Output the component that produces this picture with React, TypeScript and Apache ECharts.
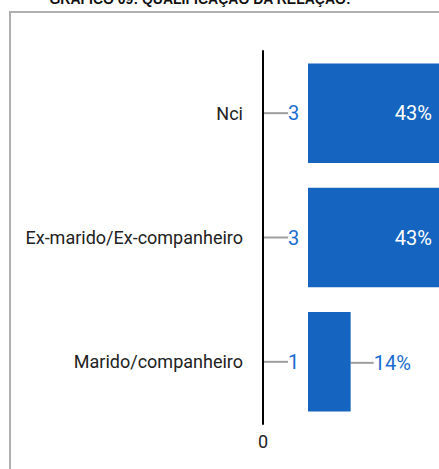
import React, { useEffect, useRef } from "react";
import * as echarts from "echarts";

const titleText = "GRÁFICO 09: QUALIFICAÇÃO DA RELAÇÃO:";
const categories = ["Nci", "Ex-marido/Ex-companheiro", "Marido/companheiro"];
const counts = [3, 3, 1];
const percents = [43, 43, 14];
const axisTicks = [0];

const BAR = "#1565C0";
const LABEL_BLUE = "#1a6dd0";
const LEADER = "#9e9e9e";
const FONT = "Roboto";

export default function App() {
  const ref = useRef<HTMLDivElement>(null);
  useEffect(() => {
    const chart = echarts.init(ref.current!, null, { renderer: "svg" });
    const option: any = {
      animation: false,
      backgroundColor: "#fff",
      graphic: [
        {
          type: "rect",
          z: 0,
          shape: { x: 10, y: 12, width: 600, height: 600 },
          style: { fill: "none", stroke: "#b0b0b0", lineWidth: 2 },
        },
        {
          type: "text",
          x: 200,
          y: 6,
          style: {
            text: titleText,
            fill: "#111",
            font: "bold 14px 'Liberation Sans', Arial, sans-serif",
            align: "center",
            verticalAlign: "bottom",
          },
        },
      ],
      grid: [
        { left: 263, right: 0, top: 51, height: 373 },
        { left: 308, right: 0, top: 51, height: 373 },
      ],
      xAxis: [
        {
          gridIndex: 0,
          type: "value",
          min: 0,
          max: 10,
          interval: 10,
          axisLine: { show: false },
          axisTick: { show: false },
          splitLine: { show: false },
          axisLabel: {
            margin: 8,
            fontSize: 18,
            fontFamily: FONT,
            color: "#222",
            formatter: (v: number) => (axisTicks.includes(v) ? String(v) : ""),
          },
        },
        {
          gridIndex: 1,
          type: "value",
          min: 0,
          max: 43,
          show: false,
        },
      ],
      yAxis: [
        {
          gridIndex: 0,
          type: "category",
          inverse: true,
          data: categories,
          axisLine: { show: true, lineStyle: { color: "#000", width: 2 } },
          axisTick: { show: false },
          axisLabel: { margin: 20, fontSize: 18, fontFamily: FONT, color: "#222" },
        },
        {
          gridIndex: 1,
          type: "category",
          inverse: true,
          data: categories,
          show: false,
        },
      ],
      series: [
        {
          type: "custom",
          xAxisIndex: 0,
          yAxisIndex: 0,
          data: counts.map((c, i) => [0, i, c]),
          encode: { x: 0, y: 1 },
          renderItem: (params: any, api: any) => {
            const p = api.coord([api.value(0), api.value(1)]);
            return {
              type: "group",
              children: [
                {
                  type: "line",
                  shape: { x1: p[0] + 1, y1: p[1], x2: p[0] + 25, y2: p[1] },
                  style: { stroke: LEADER, lineWidth: 2 },
                },
                {
                  type: "text",
                  x: p[0] + 25,
                  y: p[1],
                  style: {
                    text: String(api.value(2)),
                    fill: LABEL_BLUE,
                    fontSize: 20,
                    fontFamily: FONT,
                    align: "left",
                    verticalAlign: "middle",
                  },
                },
              ],
            };
          },
        },
        {
          type: "bar",
          xAxisIndex: 1,
          yAxisIndex: 1,
          barCategoryGap: "20%",
          itemStyle: { color: BAR },
          data: percents.map((p) =>
            p >= 20
              ? {
                  value: p,
                  label: {
                    show: true,
                    position: "insideRight",
                    distance: 7,
                    color: "#fff",
                    fontSize: 20,
                    fontFamily: FONT,
                    formatter: "{c}%",
                  },
                }
              : { value: p, label: { show: false } }
          ),
        },
        {
          type: "custom",
          xAxisIndex: 1,
          yAxisIndex: 1,
          data: percents.map((p, i) => [p, i]).filter((d) => d[0] < 20),
          encode: { x: 0, y: 1 },
          renderItem: (params: any, api: any) => {
            const p = api.coord([api.value(0), api.value(1)]);
            return {
              type: "group",
              children: [
                {
                  type: "line",
                  shape: { x1: p[0], y1: p[1] + 1, x2: p[0] + 23, y2: p[1] + 1 },
                  style: { stroke: LEADER, lineWidth: 2 },
                },
                {
                  type: "text",
                  x: p[0] + 23,
                  y: p[1] + 1,
                  style: {
                    text: api.value(0) + "%",
                    fill: LABEL_BLUE,
                    fontSize: 20,
                    fontFamily: FONT,
                    align: "left",
                    verticalAlign: "middle",
                  },
                },
              ],
            };
          },
        },
      ],
    };
    chart.setOption(option);
    return () => chart.dispose();
  }, []);
  return (
    <div
      ref={ref}
      style={{ position: "absolute", left: 0, top: 0, width: 439, height: 469 }}
    />
  );
}
